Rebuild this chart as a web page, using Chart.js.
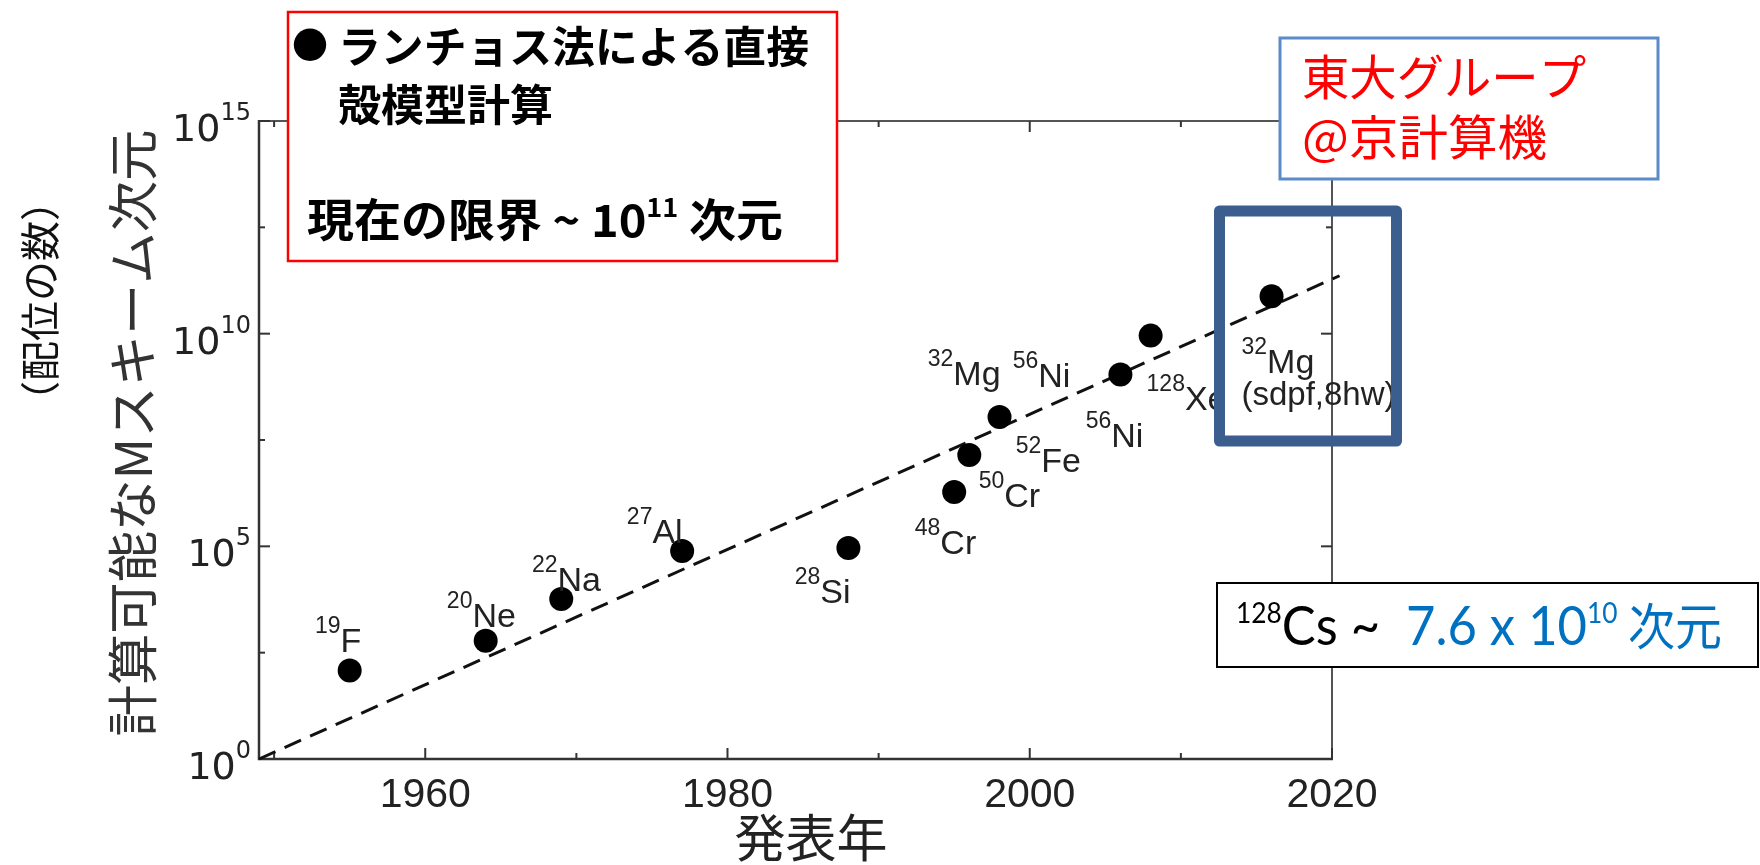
<!DOCTYPE html>
<html>
<head>
<meta charset="utf-8">
<script src="https://cdn.jsdelivr.net/npm/chart.js@4.4.0/dist/chart.umd.min.js"></script>
<style>
  html, body { margin: 0; padding: 0; background: #fff; }
  #wrap { width: 1760px; height: 865px; }
  canvas { display: block; }
</style>
</head>
<body>
<div id="wrap"><canvas id="c" width="1760" height="865"></canvas></div>
<script>
// Publication year and M-scheme dimension reached by direct Lanczos shell-model runs
const years = [1955, 1964, 1969, 1977, 1988, 1995, 1996, 1998, 2006, 2008, 2016];
const mSchemeDims = [1.2e2, 6.0e2, 5.8e3, 7.8e4, 9.1e4, 1.9e6, 1.4e7, 1.1e8, 1.1e9, 9.0e9, 7.6e10];

// Exponential trend (dashed)
const trendYears = [1949, 2020.5];
const trendDims = [1, 2.3e11];

// Axis ticks
const xMajorTicks = [1960, 1980, 2000, 2020];
const xMinorTicks = [1950, 1970, 1990, 2010];
const yMajorExps = [0, 5, 10, 15];
const yMinorExps = [2.5, 7.5, 12.5];

// Nuclide annotations: mass number, element, anchor (year, log10 dimension)
const nuclideMass = ['19', '20', '22', '27', '28', '48', '50', '32', '52', '56', '56', '128', '32'];
const nuclideSym = ['F', 'Ne', 'Na', 'Al', 'Si', 'Cr', 'Cr', 'Mg', 'Fe', 'Ni', 'Ni', 'Xe', 'Mg'];
const nuclideAtYear = [1952.70, 1961.43, 1967.06, 1973.34, 1984.45, 1992.39, 1996.62, 1993.25, 1999.07, 1998.87, 2003.70, 2007.73, 2014.01];
const nuclideAtExp = [2.52, 3.11, 3.95, 5.08, 3.67, 4.82, 5.93, 8.80, 6.75, 8.75, 7.34, 8.21, 9.08];
const nuclideNote = ['', '', '', '', '', '', '', '', '', '', '', '', '(sdpf,8hw)'];

const LAT = '"Liberation Sans", Arial, sans-serif';
const DJV = '"DejaVu Sans", sans-serif';
const CJK = '"Noto Sans CJK JP", sans-serif';
const CAL = 'Lato, "Open Sans", sans-serif';

function partsWidth(ctx, parts) {
  let w = 0;
  for (const p of parts) { ctx.font = p[1]; w += ctx.measureText(p[0]).width; }
  return w;
}
// Draws a run of text pieces; optionally squeezes/stretches it to a given width
function drawRun(ctx, parts, x, y, fitWidth) {
  const natural = partsWidth(ctx, parts);
  const s = fitWidth ? fitWidth / natural : 1;
  ctx.save();
  ctx.translate(x, y);
  ctx.scale(s, 1);
  let cx = 0;
  for (const [t, f, c, dy] of parts) {
    ctx.font = f;
    ctx.fillStyle = c;
    ctx.fillText(t, cx, dy || 0);
    cx += ctx.measureText(t).width;
  }
  ctx.restore();
  return natural * s;
}
function line(ctx, x1, y1, x2, y2) {
  ctx.beginPath(); ctx.moveTo(x1, y1); ctx.lineTo(x2, y2); ctx.stroke();
}

const decor = {
  id: 'decor',
  beforeDatasetsDraw(chart) {
    const ctx = chart.ctx;
    const xs = chart.scales.x, ys = chart.scales.y;
    const { left, right, top, bottom } = chart.chartArea;
    ctx.save();
    ctx.lineCap = 'butt';

    // frame
    ctx.strokeStyle = '#555'; ctx.lineWidth = 2;
    line(ctx, left, top, right, top);
    line(ctx, right, top, right, bottom);
    ctx.strokeStyle = '#333'; ctx.lineWidth = 2.5;
    line(ctx, left, top - 1, left, bottom + 1);
    line(ctx, left - 1, bottom, right + 1, bottom);

    // inward ticks on all four sides
    ctx.strokeStyle = '#333'; ctx.lineWidth = 2;
    for (const v of xMajorTicks) {
      const px = xs.getPixelForValue(v);
      line(ctx, px, bottom, px, bottom - 11);
      line(ctx, px, top, px, top + 11);
    }
    for (const v of xMinorTicks) {
      const px = xs.getPixelForValue(v);
      line(ctx, px, bottom, px, bottom - 6);
      line(ctx, px, top, px, top + 6);
    }
    for (const e of yMajorExps) {
      const py = ys.getPixelForValue(Math.pow(10, e));
      line(ctx, left, py, left + 11, py);
      line(ctx, right, py, right - 11, py);
    }
    for (const e of yMinorExps) {
      const py = ys.getPixelForValue(Math.pow(10, e));
      line(ctx, left, py, left + 6, py);
      line(ctx, right, py, right - 6, py);
    }

    // x tick labels
    ctx.fillStyle = '#222';
    ctx.font = '41px ' + LAT;
    ctx.textAlign = 'center';
    ctx.textBaseline = 'alphabetic';
    for (const v of xMajorTicks) {
      ctx.fillText(String(v), xs.getPixelForValue(v), 807);
    }

    // y tick labels as 10 with superscript exponent
    ctx.textAlign = 'left';
    for (const e of yMajorExps) {
      const py = ys.getPixelForValue(Math.pow(10, e));
      const parts = [['10', '38px ' + DJV, '#222', 0], [String(e), '24px ' + DJV, '#222', -21]];
      const w = partsWidth(ctx, parts);
      drawRun(ctx, parts, 251 - w, py + 20);
    }

    // axis titles
    ctx.textBaseline = 'middle';
    ctx.textAlign = 'center';
    ctx.fillStyle = '#222';
    ctx.font = '51px ' + CJK;
    ctx.fillText('発表年', 811, 838);

    ctx.save();
    ctx.translate(133, 433);
    ctx.rotate(-Math.PI / 2);
    ctx.textAlign = 'left';
    const yt = [['計算可能なMスキーム次元', '51px ' + CJK, '#333', 0]];
    const ytw = 607;
    drawRun(ctx, yt, -ytw / 2, 0, ytw);
    ctx.restore();

    ctx.save();
    ctx.translate(40, 301);
    ctx.rotate(-Math.PI / 2);
    ctx.textAlign = 'center';
    ctx.fillStyle = '#111';
    ctx.font = '40px ' + CJK;
    ctx.fillText('（配位の数）', 0, 0);
    ctx.restore();

    ctx.restore();
  },
  afterDatasetsDraw(chart) {
    const ctx = chart.ctx;
    const xs = chart.scales.x, ys = chart.scales.y;
    ctx.save();
    ctx.textAlign = 'left';
    ctx.textBaseline = 'alphabetic';

    // nuclide labels
    for (let i = 0; i < nuclideSym.length; i++) {
      const x = xs.getPixelForValue(nuclideAtYear[i]);
      const y = ys.getPixelForValue(Math.pow(10, nuclideAtExp[i]));
      drawRun(ctx, [[nuclideMass[i], '23px ' + LAT, '#222', -19], [nuclideSym[i], '34px ' + LAT, '#222', 0]], x, y);
      if (nuclideNote[i]) {
        ctx.font = '33px ' + LAT;
        ctx.fillStyle = '#222';
        ctx.fillText(nuclideNote[i], x, y + 32);
      }
    }

    // Lanczos note box
    ctx.fillStyle = '#fff';
    ctx.fillRect(288, 12, 549, 249);
    ctx.strokeStyle = '#ff0000'; ctx.lineWidth = 2.5;
    ctx.strokeRect(288, 12, 549, 249);
    ctx.textBaseline = 'middle';
    ctx.fillStyle = '#000';
    ctx.font = '36px ' + CJK;
    ctx.fillText('●', 292, 45);
    drawRun(ctx, [['ランチョス法による直接', 'bold 43px ' + CJK, '#000', 0]], 338, 47, 471);
    drawRun(ctx, [['殻模型計算', 'bold 43px ' + CJK, '#000', 0]], 338, 105);
    drawRun(ctx, [
      ['現在の限界 ~ ', 'bold 45px ' + CJK, '#000', 0],
      ['10', 'bold 45px ' + CJK, '#000', 0],
      ['11', 'bold 26px ' + CJK, '#000', -13],
      [' 次元', 'bold 45px ' + CJK, '#000', 0]
    ], 307, 220, 476);

    // group / machine box
    ctx.fillStyle = '#fff';
    ctx.fillRect(1280, 38, 378, 141);
    ctx.strokeStyle = '#5b8bc9'; ctx.lineWidth = 3;
    ctx.strokeRect(1280, 38, 378, 141);
    drawRun(ctx, [['東大グループ', '48px ' + CJK, '#ff0000', 0]], 1302, 77, 284);
    drawRun(ctx, [['@京計算機', '48px ' + CJK, '#ff0000', 0]], 1302, 137, 245);

    // highlight frame around the latest calculation
    ctx.strokeStyle = '#3b5e8e'; ctx.lineWidth = 11; ctx.lineJoin = 'round';
    ctx.strokeRect(1219.5, 211, 177, 230);

    // 128Cs dimension box
    ctx.fillStyle = '#fff';
    ctx.fillRect(1217, 583, 541, 84);
    ctx.strokeStyle = '#000'; ctx.lineWidth = 2; ctx.lineJoin = 'miter';
    ctx.strokeRect(1217, 583, 541, 84);
    ctx.textBaseline = 'alphabetic';
    drawRun(ctx, [
      ['128', '28px ' + CAL, '#000', -22],
      ['Cs', '54px ' + CAL, '#000', 0],
      [' ~  ', '54px ' + CAL, '#000', 0],
      ['7.6 x 10', '54px ' + CAL, '#0070c0', 0],
      ['10', '28px ' + CAL, '#0070c0', -22],
      [' 次元', '50px ' + CJK, '#0070c0', 0]
    ], 1236, 645, 486);

    ctx.restore();
  }
};

new Chart(document.getElementById('c'), {
  type: 'scatter',
  data: {
    datasets: [
      {
        data: years.map((y, i) => ({ x: y, y: mSchemeDims[i] })),
        pointRadius: 12,
        pointBackgroundColor: '#000',
        pointBorderWidth: 0,
        showLine: false,
        order: 1
      },
      {
        type: 'line',
        data: trendYears.map((y, i) => ({ x: y, y: trendDims[i] })),
        borderColor: '#111',
        borderWidth: 3,
        borderDash: [18, 10],
        pointRadius: 0,
        fill: false,
        tension: 0,
        clip: false,
        order: 2
      }
    ]
  },
  options: {
    responsive: false,
    animation: false,
    devicePixelRatio: 1,
    events: [],
    layout: { padding: { left: 259, right: 428, top: 121, bottom: 106 } },
    plugins: { legend: { display: false }, tooltip: { enabled: false } },
    scales: {
      x: { type: 'linear', display: false, min: 1949, max: 2020 },
      y: { type: 'logarithmic', display: false, min: 1, max: 1e15 }
    }
  },
  plugins: [decor]
});
</script>
</body>
</html>
